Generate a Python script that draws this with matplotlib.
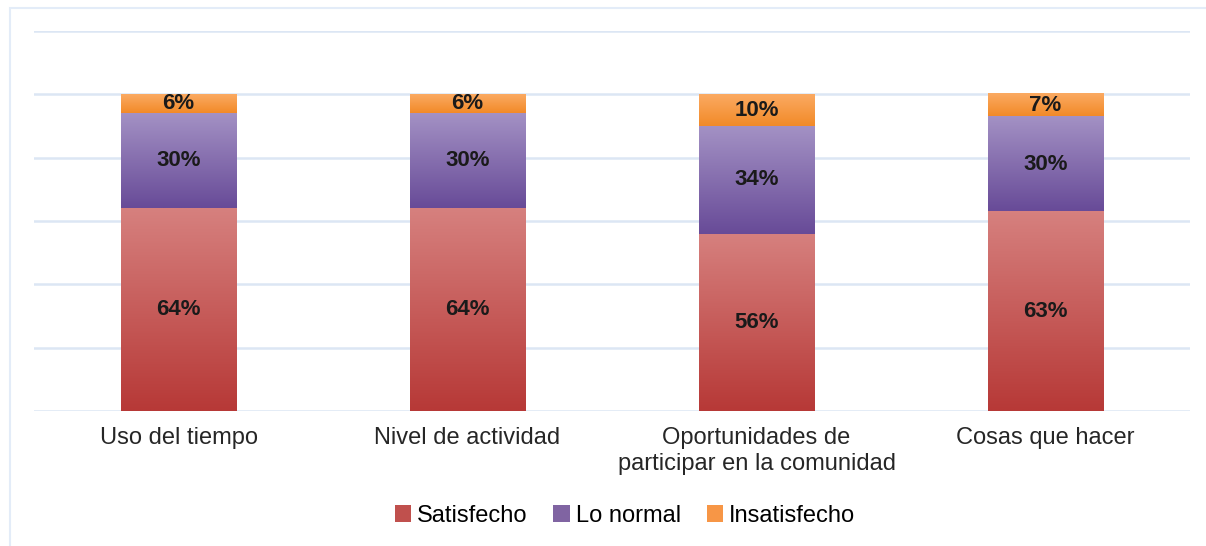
import numpy as np
import matplotlib.pyplot as plt
from matplotlib.colors import to_rgb
from matplotlib.patches import Rectangle, Patch

# Data
categories = ["Uso del tiempo", "Nivel de actividad",
              "Oportunidades de\nparticipar en la comunidad", "Cosas que hacer"]
satisfecho = [64, 64, 56, 63]
lo_normal = [30, 30, 34, 30]
insatisfecho = [6, 6, 10, 7]
series_names = ["Satisfecho", "Lo normal", "Insatisfecho"]

# (top colour, bottom colour) for the gradient of each series
gradients = [("#D6807E", "#B73937"),
             ("#A391C4", "#684B98"),
             ("#FBAA62", "#F28A28")]
legend_colors = ["#C0504D", "#8064A2", "#F79646"]

plt.rcParams['font.family'] = ['Liberation Sans', 'DejaVu Sans']

fig = plt.figure(figsize=(12.06, 5.46), dpi=100)
ax = fig.add_axes([34 / 1206, (546 - 411) / 546, (1190 - 34) / 1206, (411 - 31) / 546])

# outer frame of the chart area
fig.patches.append(Rectangle((10 / 1206, -0.1), 1.2, (546 - 8) / 546 + 0.1,
                             transform=fig.transFigure, fill=False,
                             edgecolor="#E3ECF8", linewidth=1.5))

x = np.arange(len(categories))
width = 0.40
bottoms = np.zeros(len(categories))
grid_ticks = np.arange(0, 121, 20)

for vals, (ctop, cbot) in zip([satisfecho, lo_normal, insatisfecho], gradients):
    bars = ax.bar(x, vals, width, bottom=bottoms, color="none", edgecolor="none", zorder=3)
    top_rgb = np.array(to_rgb(ctop))
    bot_rgb = np.array(to_rgb(cbot))
    t = np.linspace(0, 1, 64)[:, None]
    img = (top_rgb * (1 - t) + bot_rgb * t)[:, None, :]
    for b, v in zip(bars, vals):
        bx, by = b.get_x(), b.get_y()
        ax.imshow(img, extent=(bx, bx + b.get_width(), by, by + b.get_height()),
                  aspect='auto', origin='upper', zorder=3, interpolation='bilinear')
        ax.text(bx + b.get_width() / 2, by + b.get_height() / 2, f"{v}%",
                ha='center', va='center', fontsize=16, fontweight='bold',
                color="#1A1A1A", zorder=5)
    bottoms += np.array(vals)

ax.set_xlim(-0.5, len(categories) - 0.5)
ax.set_ylim(0, 120)
ax.set_yticks(grid_ticks)
ax.yaxis.grid(True, color="#DCE6F4", linewidth=1.8, zorder=0)
ax.set_axisbelow(True)
ax.tick_params(axis='y', left=False, labelleft=False)
ax.tick_params(axis='x', bottom=False, pad=8)
ax.set_xticks(x)
ax.set_xticklabels(categories, fontsize=17, color="#262626", linespacing=1.25)
for s in ax.spines.values():
    s.set_visible(False)

handles = [Patch(facecolor=c, edgecolor='none') for c in legend_colors]
fig.legend(handles, series_names, loc='center', bbox_to_anchor=(625 / 1206, 1 - 516 / 546),
           ncol=3, frameon=False, fontsize=17, handlelength=0.7, handleheight=0.7,
           handletextpad=0.25, columnspacing=1.1)

fig.savefig("out.png", dpi=100)
